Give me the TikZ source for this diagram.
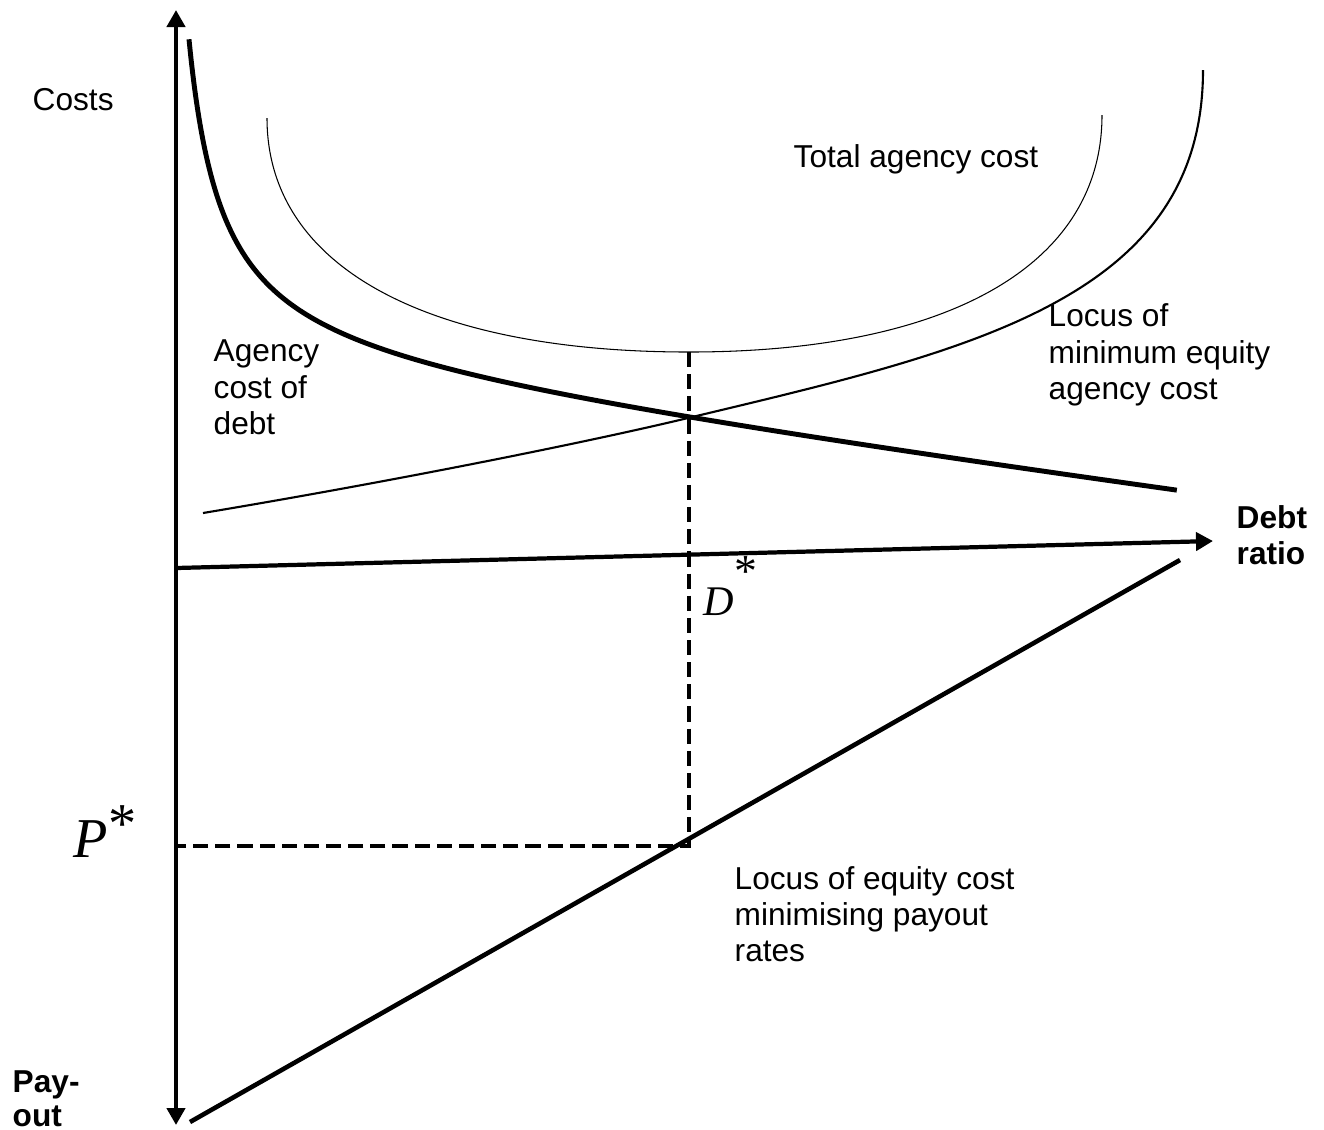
\documentclass[tikz,border=0pt]{standalone}
\usepackage{fontspec}
\setmainfont{Liberation Sans}
\newfontfamily\serifit{Liberation Serif}
\usetikzlibrary{arrows.meta}

\begin{document}
\begin{tikzpicture}[x=0.01cm,y=-0.01cm,>={Triangle[length=1.7mm,width=1.8mm]},
 every node/.style={font=\fontsize{9}{10.24}\selectfont,inner sep=0pt}]
\useasboundingbox (0,0) rectangle (1324,1129);
% axes
\coordinate (top) at (176,10);\coordinate (bot) at (176,1125);
\coordinate (orig) at (176,568);\coordinate (xend) at (1213,541);
\draw[<->,line width=1.4pt] (top)--(bot);
\draw[->,line width=1.2pt] (orig)--(xend);
% payout rates
\coordinate (pay0) at (190,1122);\coordinate (pay1) at (1180,560);
\draw[line width=1.3pt] (pay0)--(pay1);
% agency cost of debt
\draw[line width=1.4pt] plot[domain=0:3.433,samples=120,variable=\t,smooth]
 ({156+33*exp(\t)},{347.9+0.13*(156+33*exp(\t))-10996/(33*exp(\t))});
% equity locus and total
\coordinate (eq0) at (203,513);\coordinate (cross) at (688,418);\coordinate (eq1) at (1203,70);
\draw[line width=.6pt] (eq0) .. controls (400,480) and (588,442) .. (cross)
 .. controls (968,351) and (1203,300) .. (eq1);
\coordinate (tot0) at (267,118);\coordinate (tmin) at (689,352);\coordinate (tot1) at (1102,115);
\draw[line width=.3pt] (tot0) .. controls (267,268) and (429,352) .. (tmin)
 .. controls (945,352) and (1102,267) .. (tot1);
% optimum
\coordinate (opt) at (689,846);\coordinate (pax) at (176,846);
\draw[line width=1.15pt,dash pattern=on 4.3pt off 2pt] (tmin)--(opt)--(pax);
% labels
\node[anchor=base west] (costs) at (32,110) {Costs};
\node[anchor=base west] (tac) at (793,167) {Total agency cost};
\node[anchor=base west,align=left] (acd) at (213,434) {Agency\\cost of\\debt};
\node[anchor=base west,align=left] (lme) at (1048,399) {Locus of\\minimum equity\\agency cost};
\node[anchor=base west,align=left] (lec) at (734,961) {Locus of equity cost\\minimising payout\\rates};
\node[anchor=base west,align=left,font=\fontsize{9}{10.24}\selectfont\bfseries] (dr) at (1236,564) {Debt\\ratio};
\node[anchor=base west,align=left,font=\fontsize{9}{9.6}\selectfont\bfseries] (po) at (12,1126) {Pay-\\out};
\node[anchor=base west] (pst) at (73,857) {\fontsize{16}{20}\selectfont\serifit\itshape P\raisebox{4pt}{\upshape *}};
\node[anchor=base west] (dst) at (703,615) {\fontsize{12}{15}\selectfont\serifit\itshape D\raisebox{8pt}{\fontsize{13}{13}\selectfont\upshape *}};
\end{tikzpicture}
\end{document}
